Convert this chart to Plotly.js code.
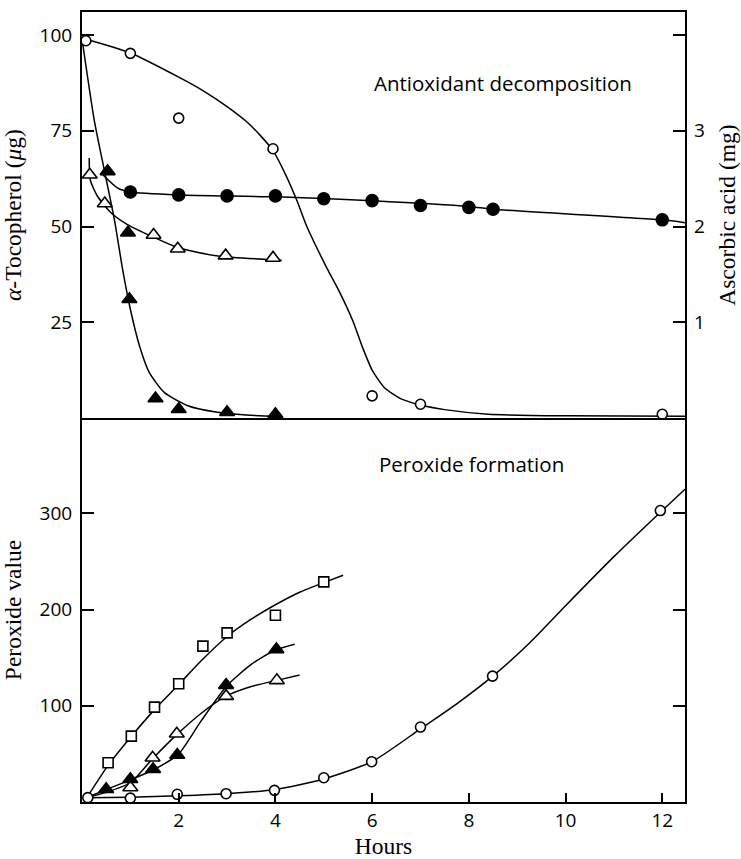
<!DOCTYPE html>
<html>
<head>
<meta charset="utf-8">
<script src="https://cdn.plot.ly/plotly-3.0.1.min.js"></script>
<style>
  html, body { margin: 0; padding: 0; background: #fff; }
  #chart { width: 741px; height: 859px; }
</style>
</head>
<body>
<div id="chart"></div>
<script>
// ---------- Top panel: antioxidant decomposition ----------
// alpha-tocopherol (open circles), µg
const tocCircX = [0.08, 1, 2, 3.95, 6, 7, 12];
const tocCircY = [98.5, 95.2, 78.3, 70.3, 5.8, 3.6, 1.0];
const tocCircCurveX = [0.05, 1, 2, 2.5, 3.0, 3.4, 3.7, 3.95, 4.2, 4.45, 4.65, 5.03, 5.35, 5.6, 5.8, 6.0, 6.25, 6.6, 7.0, 7.5, 8.4, 10, 12.47];
const tocCircCurveY = [99, 95.3, 89, 85.5, 81.3, 77.4, 73.6, 69.8, 63.8, 56.6, 50, 40, 32.3, 25.4, 18.5, 12.5, 8, 5, 3.4, 2.2, 1.0, 0.6, 0.5];

// alpha-tocopherol (filled triangles), µg
const tocFTriX = [0.53, 0.95, 0.98, 1.52, 2.0, 3.0, 4.0];
const tocFTriY = [64.4, 48.4, 31.0, 5.1, 2.3, 1.5, 1.0];
const tocFTriCurveX = [0.0, 0.25, 0.46, 0.67, 0.84, 1.0, 1.19, 1.39, 1.7, 2.19, 2.8, 3.4, 4.1];
const tocFTriCurveY = [99, 78, 64.8, 51.8, 38.8, 28.4, 18.8, 11.9, 6.7, 3.2, 1.5, 0.8, 0.4];

// alpha-tocopherol (open triangles), µg
const tocOTriX = [0.16, 0.47, 1.48, 1.98, 2.97, 3.95];
const tocOTriY = [63.5, 56.0, 47.8, 44.2, 42.4, 41.8];
const tocOTriCurveX = [0.15, 0.17, 0.32, 0.6, 0.94, 1.5, 1.98, 2.81, 4.13];
const tocOTriCurveY = [67.9, 62.2, 57.9, 53.6, 50.5, 47.1, 44.5, 42.3, 41.2];

// ascorbic acid (filled circles), mg
const ascX = [1, 2, 3, 4, 5, 6, 7, 8, 8.5, 12];
const ascY = [2.36, 2.33, 2.32, 2.32, 2.29, 2.27, 2.22, 2.20, 2.18, 2.07];
const ascCurveX = [0.43, 0.74, 1, 2, 4, 6, 8, 8.5, 12, 12.47];
const ascCurveY = [2.54, 2.40, 2.36, 2.33, 2.31, 2.27, 2.21, 2.18, 2.07, 2.04];

// ---------- Bottom panel: peroxide formation ----------
const pvSqX = [0.54, 1.02, 1.5, 2.0, 2.5, 3.0, 4.0, 5.0];
const pvSqY = [40.8, 68.5, 98.6, 122.9, 162, 175.8, 194, 228.8];
const pvSqCurveX = [0.1, 0.54, 1.0, 1.5, 2.0, 2.45, 3.0, 3.5, 4.0, 4.5, 5.0, 5.4];
const pvSqCurveY = [4.5, 38, 67, 96, 122, 146, 172, 190, 205, 218, 228, 235.7];

const pvFTriX = [0.5, 1.0, 1.47, 1.97, 2.98, 4.02];
const pvFTriY = [13.2, 23.6, 34, 48.8, 121.5, 158.6];
const pvFTriCurveX = [0.1, 0.5, 1.0, 1.5, 2.0, 2.46, 3.0, 3.5, 4.0, 4.4];
const pvFTriCurveY = [4.5, 13, 23, 34, 50, 84, 121, 143, 158, 164];

const pvOTriX = [1.0, 1.46, 1.96, 2.98, 4.03];
const pvOTriY = [15, 46, 70.9, 110, 126.4];
const pvOTriCurveX = [0.1, 0.5, 1.0, 1.46, 1.96, 2.46, 2.98, 3.5, 4.03, 4.5];
const pvOTriCurveY = [4.5, 10, 20, 45, 70, 92, 110, 120, 126.4, 131.9];

const pvCircX = [0.12, 1.0, 1.97, 2.98, 3.98, 5.0, 5.99, 7.0, 8.49, 11.96];
const pvCircY = [4.5, 4, 8.0, 8.6, 12.1, 25.2, 41.9, 77.9, 130.8, 302.9];
const pvCircCurveX = [0.1, 1, 2, 3, 4, 5, 6, 7, 7.75, 8.5, 9.25, 10, 11, 12, 12.47];
const pvCircCurveY = [4.5, 5, 6.5, 8.6, 13, 24, 42, 76, 102, 131, 165, 204, 255, 303, 325];

// axis ticks
const hourTicks = [2, 4, 6, 8, 10, 12];
const tocTicks = [25, 50, 75, 100];
const ascTicks = [1, 2, 3, 4];
const ascTickText = ['1', '2', '3', ''];
const pvTicks = [100, 200, 300];

// ---------- helpers ----------
const LW = 1.5;
function curve(x, y, xa, ya) {
  return { x: x, y: y, xaxis: xa, yaxis: ya, type: 'scatter', mode: 'lines',
    line: { color: '#000', width: LW, shape: 'spline', smoothing: 0.6 },
    hoverinfo: 'skip', showlegend: false };
}
function pts(x, y, xa, ya, symbol, filled, size) {
  return { x: x, y: y, xaxis: xa, yaxis: ya, type: 'scatter', mode: 'markers',
    marker: { symbol: symbol, size: size, color: filled ? '#000' : '#fff',
      line: { color: '#000', width: 1.6 } },
    showlegend: false, cliponaxis: false };
}

const traces = [
  curve(tocCircCurveX, tocCircCurveY, 'x2', 'y2'),
  curve(tocFTriCurveX, tocFTriCurveY, 'x2', 'y2'),
  curve(tocOTriCurveX, tocOTriCurveY, 'x2', 'y2'),
  curve(ascCurveX, ascCurveY, 'x2', 'y3'),
  curve(pvSqCurveX, pvSqCurveY, 'x', 'y'),
  curve(pvFTriCurveX, pvFTriCurveY, 'x', 'y'),
  curve(pvOTriCurveX, pvOTriCurveY, 'x', 'y'),
  curve(pvCircCurveX, pvCircCurveY, 'x', 'y'),
  pts(tocCircX, tocCircY, 'x2', 'y2', 'circle', false, 10),
  pts(tocOTriX, tocOTriY, 'x2', 'y2', 'triangle-up', false, 13),
  pts(tocFTriX, tocFTriY, 'x2', 'y2', 'triangle-up', true, 13),
  pts(ascX, ascY, 'x2', 'y3', 'circle', true, 12),
  pts(pvCircX, pvCircY, 'x', 'y', 'circle', false, 10),
  pts(pvSqX, pvSqY, 'x', 'y', 'square', false, 10),
  pts(pvOTriX, pvOTriY, 'x', 'y', 'triangle-up', false, 13),
  pts(pvFTriX, pvFTriY, 'x', 'y', 'triangle-up', true, 13)
];

const sansFam = '"Open Sans", Lato, sans-serif';
const tickFont = { family: sansFam, size: 19, color: '#000' };
const titleFont = { family: '"Liberation Serif", "DejaVu Serif", serif', size: 23.5, color: '#000' };
const split = 0.486;

const layout = {
  width: 741, height: 859,
  margin: { l: 82, r: 56, t: 12, b: 57 },
  paper_bgcolor: '#fff', plot_bgcolor: '#fff',
  showlegend: false,
  font: tickFont,
  xaxis: {
    domain: [0, 1], anchor: 'y', range: [0, 12.47],
    tickvals: hourTicks, ticks: 'inside', ticklen: 9, tickwidth: 2, tickcolor: '#000',
    showline: true, linecolor: '#000', linewidth: 2, mirror: false,
    showgrid: false, zeroline: false, tickfont: tickFont,
    title: { text: 'Hours', font: titleFont, standoff: 12 },
    automargin: false
  },
  xaxis2: {
    domain: [0, 1], anchor: 'y2', matches: 'x', range: [0, 12.47],
    showticklabels: false, ticks: '',
    showline: true, linecolor: '#000', linewidth: 2, mirror: true,
    showgrid: false, zeroline: false
  },
  yaxis: {
    domain: [0, split], anchor: 'x', range: [0, 399],
    tickvals: pvTicks, ticks: 'inside', ticklen: 12, tickwidth: 2, tickcolor: '#000',
    showline: true, linecolor: '#000', linewidth: 2, mirror: 'ticks',
    showgrid: false, zeroline: false, tickfont: tickFont, ticklabelstandoff: 4,
    title: { text: 'Peroxide value', font: titleFont, standoff: 12 },
    automargin: false
  },
  yaxis2: {
    domain: [split, 1], anchor: 'x2', range: [0, 106],
    tickvals: tocTicks, ticks: 'inside', ticklen: 12, tickwidth: 2, tickcolor: '#000',
    showline: true, linecolor: '#000', linewidth: 2, mirror: true,
    showgrid: false, zeroline: false, tickfont: tickFont, ticklabelstandoff: 4,
    title: { text: '<i>α</i>-Tocopherol (<i>μ</i>g)', font: titleFont, standoff: 12 },
    automargin: false
  },
  yaxis3: {
    overlaying: 'y2', anchor: 'x2', side: 'right', range: [0, 4.24],
    tickvals: ascTicks, ticktext: ascTickText, ticks: 'inside', ticklen: 12, tickwidth: 2, tickcolor: '#000',
    showline: false, showgrid: false, zeroline: false, tickfont: tickFont, ticklabelstandoff: 8,
    title: { text: 'Ascorbic acid (mg)', font: titleFont, standoff: 14 },
    automargin: false
  },
  annotations: [
    { text: 'Antioxidant decomposition', xref: 'x2', yref: 'y2', x: 8.7, y: 87.5,
      showarrow: false, xanchor: 'center', yanchor: 'middle',
      font: { family: sansFam, size: 20.5, color: '#000' } },
    { text: 'Peroxide formation', xref: 'x', yref: 'y', x: 8.06, y: 351,
      showarrow: false, xanchor: 'center', yanchor: 'middle',
      font: { family: sansFam, size: 20.5, color: '#000' } }
  ]
};

Plotly.newPlot('chart', traces, layout, { staticPlot: true, displayModeBar: false });
</script>
</body>
</html>
